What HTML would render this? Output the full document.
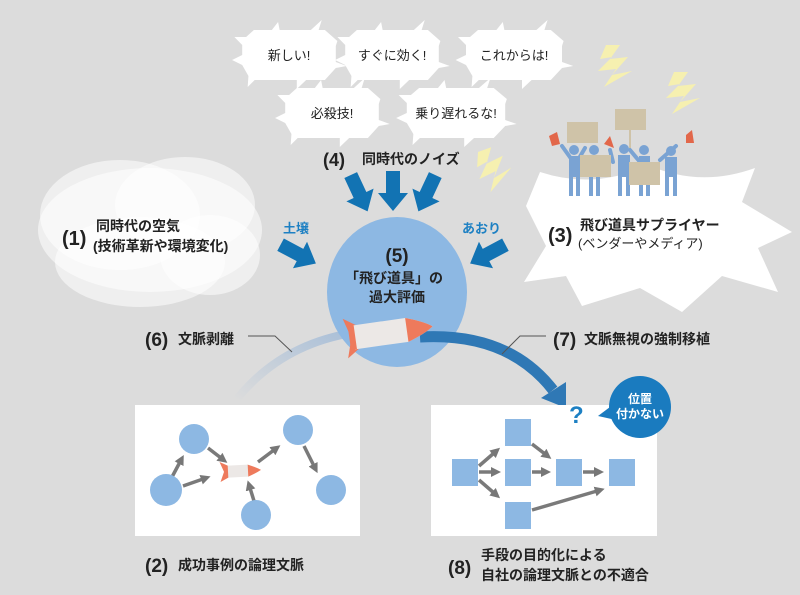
<!DOCTYPE html>
<html><head><meta charset="utf-8"><style>
html,body{margin:0;padding:0;background:#dcdcdc}
svg{display:block}
text{font-family:"Liberation Sans","Noto Sans CJK JP",sans-serif;fill:#222}
.b{font-weight:bold}
</style></head><body>
<svg width="800" height="595" viewBox="0 0 800 595" xmlns="http://www.w3.org/2000/svg">
<defs>
<path id="burst" d="M-45,-25 L-22,-25 L-14,-33 L-12,-25 L28,-25 L42,-35 L38,-25 L46,-25 L62,-14 L60,-9 L60,7 L74,11 L60,13 L46,25 L22,25 L10,34 L10,25 L-44,25 L-53,32 L-52,21 L-60,10 L-73,5 L-60,0 L-60,-10 L-70,-18 L-55,-18 Z" fill="#fff"/>
<polygon id="arr" points="-7,-22 7,-22 7,0 15,0 0,18 -15,0 -7,0" fill="#1273b3"/>
<polygon id="bolt" points="0,0 14,0 4,14 22,12 6,30 26,26 -2,42 10,24 -8,26 6,12 -6,14" fill="#f6f0b0"/>
<marker id="ga" markerWidth="10" markerHeight="10" refX="2" refY="5" orient="auto" markerUnits="userSpaceOnUse"><path d="M0,0 L10,5 L0,10 Z" fill="#777"/></marker>
<linearGradient id="lg" x1="0" y1="1" x2="1" y2="0"><stop offset="0" stop-color="#dcdcdc"/><stop offset="1" stop-color="#a9bfd8"/></linearGradient>
</defs>

<!-- noise bubbles -->
<use href="#burst" transform="translate(289,55) scale(0.78,1)"/>
<use href="#burst" transform="translate(392,55) scale(0.78,1)"/>
<use href="#burst" transform="translate(514,55) scale(0.8,1)"/>
<use href="#burst" transform="translate(332,113) scale(0.78,1)"/>
<use href="#burst" transform="translate(456,113) scale(0.82,1)"/>
<text x="289" y="60" font-size="13" text-anchor="middle">新しい!</text>
<text x="392" y="60" font-size="13" text-anchor="middle">すぐに効く!</text>
<text x="514" y="60" font-size="13" text-anchor="middle">これからは!</text>
<text x="332" y="118" font-size="13" text-anchor="middle">必殺技!</text>
<text x="456" y="118" font-size="13" text-anchor="middle">乗り遅れるな!</text>

<text x="323" y="166" font-size="18" class="b">(4)</text>
<text x="362" y="164" font-size="14" class="b">同時代のノイズ</text>

<!-- left cloud -->
<g fill="#fff" fill-opacity="0.55">
<ellipse cx="150" cy="230" rx="112" ry="62"/>
<ellipse cx="120" cy="215" rx="80" ry="55"/>
<ellipse cx="185" cy="205" rx="70" ry="48"/>
<ellipse cx="140" cy="262" rx="85" ry="45"/>
<ellipse cx="210" cy="255" rx="50" ry="40"/>
</g>
<text x="62" y="245" font-size="20" class="b">(1)</text>
<text x="96" y="231" font-size="14" class="b">同時代の空気</text>
<text x="93" y="251" font-size="14" class="b">(技術革新や環境変化)</text>

<!-- right starburst -->
<path d="M540,172 Q595,190 648,165 Q700,188 755,168 L742,202 L792,232 L758,248 L778,292 L722,276 L682,312 L640,288 L582,306 L566,276 L524,282 L546,246 L526,206 Z" fill="#fff"/>

<!-- lightning -->
<use href="#bolt" transform="translate(606,45)"/>
<use href="#bolt" transform="translate(674,72)"/>
<use href="#bolt" transform="translate(478,152) rotate(-20)"/>

<!-- protesters -->
<g fill="#cfc3a8">
<rect x="567" y="122" width="31" height="21"/>
<rect x="615" y="109" width="31" height="21"/>
</g>
<g stroke="#cfc3a8" stroke-width="2"><line x1="630" y1="130" x2="630" y2="150"/></g>
<g fill="#7aa3d3" stroke="#7aa3d3">
<g stroke-width="4" stroke-linecap="round">
<line x1="562" y1="146" x2="572" y2="160"/><line x1="585" y1="148" x2="578" y2="160"/>
<line x1="610" y1="150" x2="613" y2="162"/><line x1="640" y1="162" x2="630" y2="150"/>
<line x1="660" y1="160" x2="676" y2="146"/>
</g>
<g stroke="none">
<circle cx="574" cy="150" r="5"/><rect x="569" y="156" width="11" height="21"/><rect x="569" y="176" width="4" height="20"/><rect x="576" y="176" width="4" height="20"/>
<circle cx="594" cy="150" r="5"/><rect x="589" y="156" width="11" height="21"/><rect x="589" y="176" width="4" height="20"/><rect x="596" y="176" width="4" height="20"/>
<circle cx="624" cy="149" r="5"/><rect x="618" y="155" width="12" height="22"/><rect x="618" y="176" width="4" height="20"/><rect x="626" y="176" width="4" height="20"/>
<circle cx="644" cy="150" r="5"/><rect x="639" y="156" width="11" height="21"/><rect x="639" y="176" width="4" height="20"/><rect x="646" y="176" width="4" height="20"/>
<circle cx="671" cy="151" r="5"/><rect x="665" y="157" width="12" height="20"/><rect x="665" y="176" width="4" height="20"/><rect x="673" y="176" width="4" height="20"/>
</g>
</g>
<g fill="#cfc3a8">
<rect x="580" y="155" width="31" height="22"/>
<rect x="629" y="162" width="31" height="23"/>
</g>
<g fill="#e2674a">
<polygon points="549,136 557,132 560,144 552,146"/>
<polygon points="604,144 610,136 614,148"/>
<polygon points="686,135 692,130 694,143 686,143"/>
</g>
<text x="548" y="242" font-size="20" class="b">(3)</text>
<text x="580" y="230" font-size="14" class="b">飛び道具サプライヤー</text>
<text x="578" y="248" font-size="13">(ベンダーやメディア)</text>

<!-- blue arrows -->
<use href="#arr" transform="translate(360,195) rotate(-25)"/>
<use href="#arr" transform="translate(393,193)"/>
<use href="#arr" transform="translate(426,195) rotate(25)"/>
<use href="#arr" transform="translate(300,255) rotate(-62)"/>
<use href="#arr" transform="translate(486,255) rotate(62)"/>
<text x="283" y="233" font-size="13" class="b" style="fill:#1d80c3">土壌</text>
<text x="462" y="233" font-size="13" class="b" style="fill:#1d80c3">あおり</text>

<!-- light arc -->
<path d="M236,400 Q280,345 352,333" fill="none" stroke="url(#lg)" stroke-width="8"/>

<!-- center circle -->
<ellipse cx="397" cy="292" rx="70" ry="75" fill="#8db8e3"/>
<text x="397" y="262" font-size="19" class="b" text-anchor="middle">(5)</text>
<text x="394" y="283" font-size="14" class="b" text-anchor="middle">「飛び道具」の</text>
<text x="397" y="302" font-size="14" class="b" text-anchor="middle">過大評価</text>

<!-- dark arc -->
<path d="M420,337 Q508,332 553,390" fill="none" stroke="#2f78b5" stroke-width="11"/>
<polygon points="566,408 541,398 566,382" fill="#2f78b5"/>

<!-- rocket -->
<g transform="translate(385,333) rotate(-8)">
<polygon points="-40,-20 -28,-12 -28,12 -40,20 -34,0" fill="#ee7a5c"/>
<path d="M-32,-12 L22,-12 Q40,-6 48,0 Q40,6 22,12 L-32,12 Z" fill="#ece8e6"/>
<path d="M22,-12 Q40,-6 48,0 Q40,6 22,12 Z" fill="#ee7a5c"/>
<rect x="-36" y="-12" width="6" height="24" fill="#ee7a5c"/>
</g>

<!-- leader labels -->
<text x="145" y="346" font-size="19" class="b">(6)</text>
<text x="178" y="344" font-size="14" class="b">文脈剥離</text>
<polyline points="248,336 275,336 292,352" fill="none" stroke="#555" stroke-width="1"/>
<text x="553" y="346" font-size="19" class="b">(7)</text>
<text x="584" y="344" font-size="14" class="b">文脈無視の強制移植</text>
<polyline points="546,336 520,336 502,354" fill="none" stroke="#555" stroke-width="1"/>

<!-- boxes -->
<rect x="135" y="405" width="225" height="131" fill="#fff"/>
<rect x="431" y="405" width="226" height="131" fill="#fff"/>

<!-- left graph -->
<g stroke="#7a7a7a" stroke-width="3.5" marker-end="url(#ga)">
<line x1="172" y1="477" x2="180" y2="462"/>
<line x1="183" y1="486" x2="203" y2="479"/>
<line x1="208" y1="448" x2="221" y2="458"/>
<line x1="258" y1="462" x2="274" y2="450"/>
<line x1="304" y1="446" x2="314" y2="466"/>
<line x1="254" y1="501" x2="250" y2="488"/>
</g>
<g fill="#8db8e3">
<circle cx="194" cy="439" r="15"/>
<circle cx="166" cy="490" r="16"/>
<circle cx="298" cy="430" r="15"/>
<circle cx="331" cy="490" r="15"/>
<circle cx="256" cy="515" r="15"/>
</g>
<g transform="translate(240,471) rotate(-3)">
<path d="M-14,-6 L8,-6 Q16,-3 21,0 Q16,3 8,6 L-14,6 Z" fill="#ece8e6"/>
<path d="M8,-6 Q16,-3 21,0 Q16,3 8,6 Z" fill="#ee7a5c"/>
<polygon points="-20,-10 -12,-6 -12,6 -20,10 -16,0" fill="#ee7a5c"/>
</g>

<!-- right graph -->
<g stroke="#7a7a7a" stroke-width="3.5" marker-end="url(#ga)">
<line x1="479" y1="466" x2="494" y2="453"/>
<line x1="479" y1="472" x2="493" y2="472"/>
<line x1="479" y1="480" x2="494" y2="493"/>
<line x1="532" y1="444" x2="545" y2="454"/>
<line x1="532" y1="472" x2="543" y2="472"/>
<line x1="583" y1="472" x2="596" y2="472"/>
<line x1="532" y1="510" x2="597" y2="491"/>
</g>
<g fill="#8db8e3">
<rect x="452" y="459" width="26" height="27"/>
<rect x="505" y="419" width="26" height="27"/>
<rect x="505" y="459" width="26" height="27"/>
<rect x="505" y="502" width="26" height="27"/>
<rect x="556" y="459" width="26" height="27"/>
<rect x="609" y="459" width="26" height="27"/>
</g>

<!-- question bubble -->
<text x="569" y="423" font-size="24" class="b" style="fill:#1d80c3">?</text>
<polygon points="598,416 614,404 616,420" fill="#1a7bbf"/>
<circle cx="640" cy="407" r="31" fill="#1a7bbf"/>
<text x="640" y="403" font-size="12" class="b" text-anchor="middle" style="fill:#fff">位置</text>
<text x="640" y="418" font-size="12" class="b" text-anchor="middle" style="fill:#fff">付かない</text>

<!-- bottom labels -->
<text x="145" y="572" font-size="19" class="b">(2)</text>
<text x="178" y="570" font-size="14" class="b">成功事例の論理文脈</text>
<text x="448" y="574" font-size="19" class="b">(8)</text>
<text x="481" y="560" font-size="14" class="b">手段の目的化による</text>
<text x="481" y="580" font-size="14" class="b">自社の論理文脈との不適合</text>
</svg>
</body></html>
